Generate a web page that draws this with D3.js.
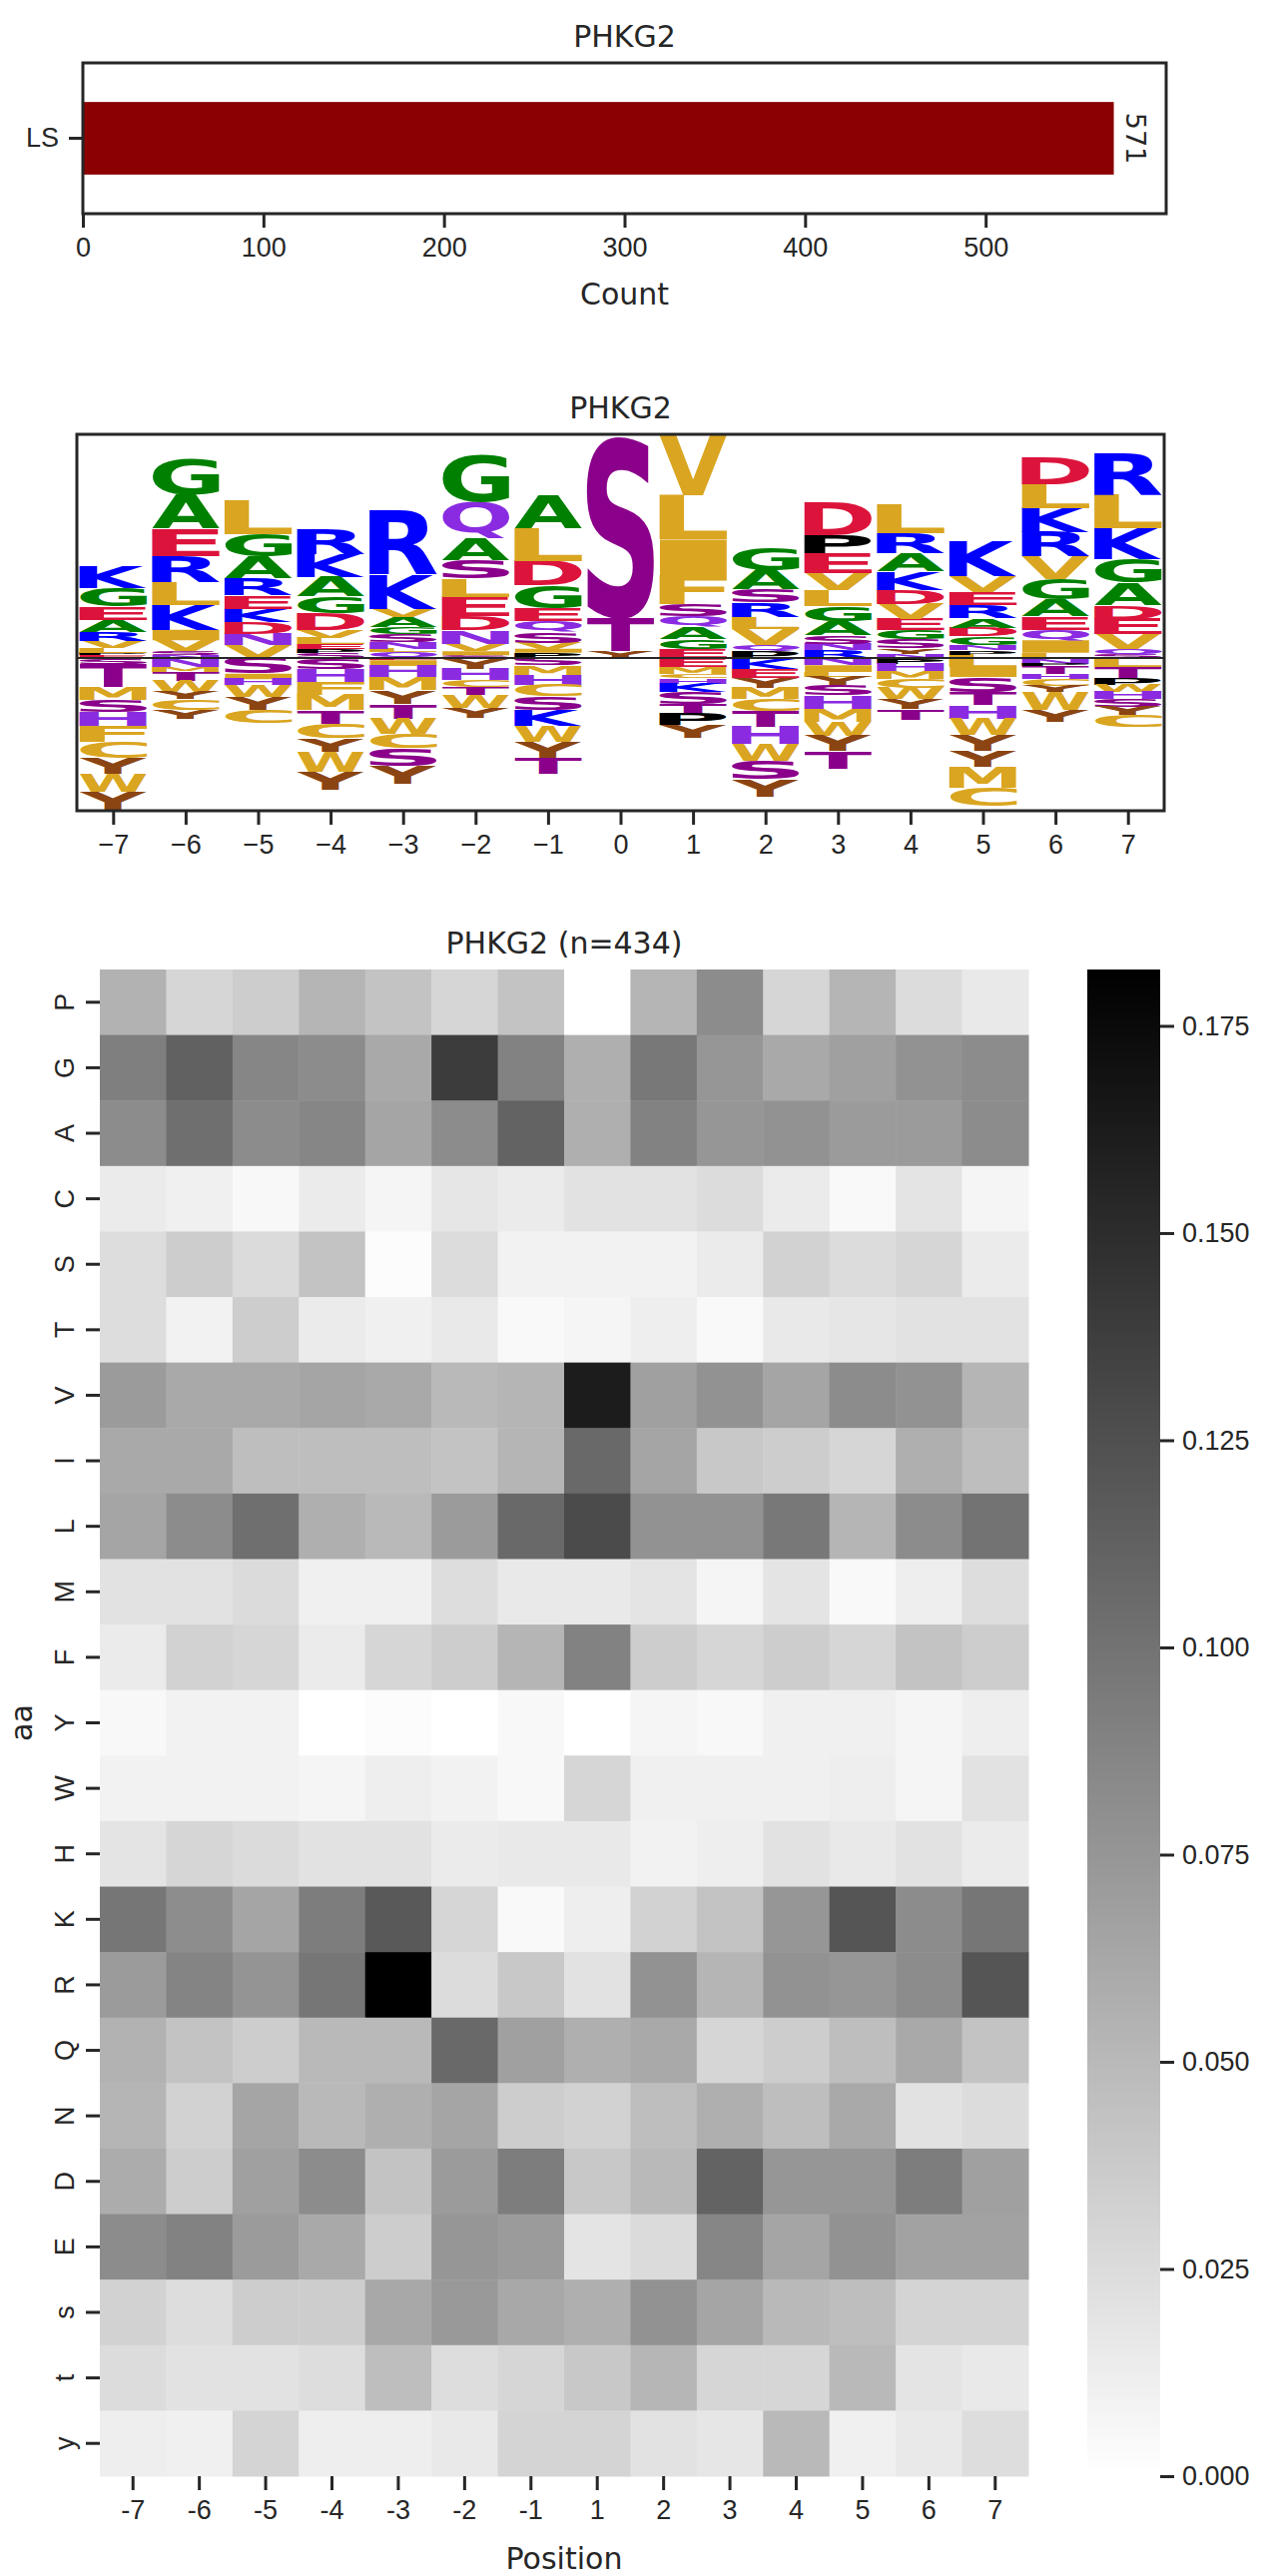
<!DOCTYPE html>
<html>
<head>
<meta charset="utf-8">
<script src="https://cdn.jsdelivr.net/npm/d3@7"></script>
<style>
  body { margin: 0; background: #fff; }
  svg { font-family: "DejaVu Sans", sans-serif; }
</style>
</head>
<body>
<svg id="chart" width="1276" height="2580"></svg>
<script>
// ---- data ----
const kinase = "PHKG2";
const countCats = ["LS"];
const countVals = [571];

const logoPositions = [-7, -6, -5, -4, -3, -2, -1, 0, 1, 2, 3, 4, 5, 6, 7];
// enriched letters, listed from top of stack down to zero line
const logoUp = [
  [["K",.67],["G",.55],["E",.40],["A",.37],["R",.26],["V",.22],["L",.15],["P",.07],["E",.08]],
  [["G",1.08],["A",1.02],["E",.82],["R",.78],["L",.70],["K",.73],["I",.32],["V",.33],["S",.12],["N",.08]],
  [["L",1.00],["G",.67],["A",.68],["R",.50],["E",.40],["K",.40],["D",.35],["N",.35],["V",.38]],
  [["R",.75],["K",.70],["A",.58],["G",.50],["D",.50],["V",.24],["L",.18],["E",.17],["P",.10],["S",.16]],
  [["R",1.92],["K",1.03],["V",.25],["A",.30],["G",.20],["S",.25],["N",.20],["L",.10],["Q",.18]],
  [["G",1.42],["Q",1.08],["A",.67],["S",.55],["L",.55],["E",.57],["D",.43],["N",.40],["V",.23],["I",.12],["S",.08]],
  [["A",1.00],["L",.98],["D",.72],["G",.68],["E",.39],["Q",.31],["S",.34],["V",.18],["I",.12],["P",.16]],
  [["S",5.48],["T",.98],["Y",.20]],
  [["V",1.78],["L",1.34],["I",1.08],["F",.85],["S",.37],["Q",.33],["A",.35],["G",.30],["E",.28]],
  [["G",.67],["A",.58],["S",.39],["R",.43],["L",.35],["V",.48],["Q",.20],["P",.20]],
  [["D",.96],["P",.57],["E",.57],["V",.53],["L",.47],["G",.46],["A",.42],["S",.25],["N",.20],["R",.23]],
  [["L",.87],["R",.60],["A",.56],["K",.55],["D",.42],["V",.45],["E",.35],["G",.27],["S",.26],["Y",.17],["N",.13]],
  [["K",1.05],["V",.47],["E",.40],["R",.38],["A",.29],["D",.25],["G",.26],["N",.17],["P",.13],["L",.10]],
  [["D",.80],["L",.72],["K",.73],["R",.72],["V",.68],["G",.62],["A",.51],["E",.40],["Q",.32],["I",.37],["L",.16]],
  [["R",1.26],["L",1.00],["K",.92],["G",.72],["A",.68],["D",.40],["E",.45],["V",.45],["Q",.18],["S",.10]]
];
// depleted letters, listed from zero line downward
const logoDown = [
  [["S",.17],["T",.70],["M",.40],["S",.35],["H",.43],["F",.47],["C",.48],["Y",.47],["W",.55],["Y",.55]],
  [["N",.27],["M",.15],["T",.27],["W",.33],["Y",.22],["C",.33],["Y",.25]],
  [["S",.47],["I",.17],["H",.18],["W",.35],["Y",.40],["C",.40]],
  [["S",.32],["H",.40],["F",.40],["M",.45],["T",.40],["C",.45],["Y",.40],["W",.60],["Y",.53]],
  [["E",.07],["I",.17],["H",.33],["M",.40],["Y",.40],["T",.45],["W",.45],["C",.45],["S",.52],["Y",.55]],
  [["Y",.32],["H",.35],["C",.20],["T",.25],["W",.38],["Y",.30]],
  [["S",.22],["M",.28],["H",.30],["C",.35],["S",.42],["K",.48],["W",.47],["Y",.50],["T",.47]],
  [],
  [["E",.27],["M",.20],["C",.13],["H",.17],["K",.25],["S",.35],["T",.30],["P",.35],["Y",.38]],
  [["K",.32],["E",.27],["Y",.30],["M",.35],["C",.35],["T",.47],["H",.53],["W",.50],["S",.55],["Y",.52]],
  [["N",.22],["I",.20],["L",.15],["Y",.25],["S",.30],["H",.40],["M",.40],["W",.42],["Y",.46],["T",.52]],
  [["P",.17],["H",.23],["M",.22],["C",.28],["W",.34],["Y",.30],["T",.33]],
  [["L",.27],["I",.30],["S",.45],["T",.40],["H",.40],["W",.50],["Y",.47],["Y",.48],["M",.62],["C",.55]],
  [["N",.17],["P",.07],["T",.23],["H",.17],["C",.20],["Y",.18],["W",.55],["Y",.35]],
  [["L",.27],["T",.35],["P",.18],["W",.22],["H",.22],["S",.23],["Y",.25],["C",.35]]
];

const heatCols = ["-7", "-6", "-5", "-4", "-3", "-2", "-1", "1", "2", "3", "4", "5", "6", "7"];
const heatRows = ["P","G","A","C","S","T","V","I","L","M","F","Y","W","H","K","R","Q","N","D","E","s","t","y"];
const heatVals = [
  [.055,.029,.036,.053,.043,.029,.043,0,.053,.082,.029,.053,.025,.016],
  [.091,.113,.086,.082,.061,.139,.089,.057,.096,.075,.061,.068,.078,.082],
  [.082,.103,.082,.086,.064,.082,.111,.057,.089,.075,.078,.071,.071,.082],
  [.014,.011,.005,.014,.007,.018,.014,.021,.021,.025,.014,.004,.019,.007],
  [.024,.036,.026,.043,.002,.025,.009,.009,.009,.014,.032,.025,.029,.014],
  [.024,.009,.036,.014,.011,.016,.004,.007,.012,.004,.016,.018,.021,.021],
  [.071,.061,.061,.064,.061,.050,.053,.162,.068,.078,.064,.082,.078,.053],
  [.061,.061,.046,.046,.046,.043,.053,.107,.064,.039,.036,.029,.057,.046],
  [.064,.082,.103,.057,.050,.071,.107,.128,.078,.078,.096,.053,.082,.100],
  [.021,.021,.026,.011,.011,.024,.016,.016,.019,.007,.019,.004,.012,.024],
  [.014,.032,.029,.014,.029,.036,.053,.089,.036,.029,.036,.029,.043,.036],
  [.005,.009,.009,0,.002,0,.005,0,.007,.005,.011,.011,.007,.012],
  [.009,.009,.009,.007,.012,.009,.005,.029,.011,.011,.011,.012,.007,.021],
  [.019,.029,.026,.021,.021,.014,.016,.016,.009,.012,.021,.016,.021,.014],
  [.098,.081,.064,.093,.118,.029,.004,.012,.032,.043,.075,.121,.082,.098],
  [.071,.088,.076,.098,.182,.025,.039,.021,.078,.053,.078,.075,.082,.121],
  [.055,.043,.036,.050,.050,.107,.068,.057,.061,.029,.036,.046,.061,.043],
  [.053,.032,.064,.050,.057,.064,.036,.032,.046,.057,.046,.061,.021,.025],
  [.059,.036,.068,.082,.043,.071,.093,.039,.050,.111,.075,.075,.093,.068],
  [.082,.089,.071,.061,.036,.075,.071,.019,.026,.086,.064,.078,.066,.066],
  [.032,.024,.036,.036,.062,.073,.062,.057,.078,.064,.050,.046,.031,.031],
  [.025,.021,.021,.024,.046,.024,.029,.039,.052,.029,.029,.050,.019,.016],
  [.012,.011,.031,.012,.012,.016,.031,.031,.021,.018,.050,.011,.016,.024]
];
const cbTicks = [0, 0.025, 0.05, 0.075, 0.1, 0.125, 0.15, 0.175];

const aaColor = {
  G: "#008000", A: "#008000",
  S: "#8b008b", T: "#8b008b",
  N: "#8a2be2", Q: "#8a2be2", H: "#8a2be2",
  K: "#0000ff", R: "#0000ff",
  D: "#dc143c", E: "#dc143c",
  L: "#daa520", V: "#daa520", I: "#daa520", F: "#daa520", M: "#daa520", W: "#daa520", C: "#daa520",
  P: "#000000", Y: "#8b4513"
};

const svg = d3.select("#chart");
const ink = "#262626";
const tickFont = 27, labelFont = 30;

function frame(g, x0, y0, x1, y1) {
  g.append("rect").attr("x", x0).attr("y", y0).attr("width", x1 - x0).attr("height", y1 - y0)
    .attr("fill", "none").attr("stroke", ink).attr("stroke-width", 3);
}
function styleAxis(a) {
  a.select(".domain").remove();
  a.selectAll(".tick line").attr("stroke", ink).attr("stroke-width", 3);
  a.selectAll(".tick text").attr("fill", ink).style("font-size", tickFont + "px");
}

// ---- panel 1: count bar ----
{
  const L = 83, R = 1168, T = 63, B = 214;
  const x = d3.scaleLinear().domain([0, 600]).range([L, R]);
  const y = d3.scaleBand().domain(countCats).range([T, B]).padding(0.35);
  const g = svg.append("g");
  g.selectAll("rect.bar").data(countVals).join("rect").attr("class", "bar")
    .attr("x", x(0)).attr("y", (d, i) => y(countCats[i]))
    .attr("width", d => x(d) - x(0)).attr("height", y.bandwidth()).attr("fill", "#8b0000");
  g.selectAll("text.val").data(countVals).join("text").attr("class", "val")
    .attr("transform", (d, i) => `translate(${x(d) + 12},${y(countCats[i]) + y.bandwidth() / 2}) rotate(90)`)
    .attr("text-anchor", "middle").attr("fill", ink).style("font-size", tickFont + "px").text(d => d);
  frame(g, L, T, R, B);
  styleAxis(g.append("g").attr("transform", `translate(0,${B})`)
    .call(d3.axisBottom(x).tickValues([0, 100, 200, 300, 400, 500]).tickSize(14).tickPadding(10)));
  styleAxis(g.append("g").attr("transform", `translate(${L},0)`)
    .call(d3.axisLeft(y).tickSize(14).tickPadding(10)));
  g.append("text").attr("x", (L + R) / 2).attr("y", 47).attr("text-anchor", "middle")
    .attr("fill", ink).style("font-size", labelFont + "px").text(kinase);
  g.append("text").attr("x", (L + R) / 2).attr("y", 305).attr("text-anchor", "middle")
    .attr("fill", ink).style("font-size", labelFont + "px").text("Count");
}

// ---- panel 2: sequence logo ----
{
  const L = 77, R = 1166, T = 435, B = 812;
  const x = d3.scaleLinear().domain([-7.5, 7.5]).range([L, R]);
  const y = d3.scaleLinear().domain([-4.59, 6.72]).range([B, T]);
  const g = svg.append("g");
  const ctx = document.createElement("canvas").getContext("2d");
  ctx.font = "bold 100px 'DejaVu Sans'";
  const w = (x(1) - x(0)) * 0.93;

  function glyph(ch, cx, yTop, yBot) {
    const m = ctx.measureText(ch);
    const l = -m.actualBoundingBoxLeft, r = m.actualBoundingBoxRight;
    const t = -m.actualBoundingBoxAscent, b = m.actualBoundingBoxDescent;
    const h = yBot - yTop;
    if (h <= 0) return;
    g.append("text").text(ch)
      .attr("fill", aaColor[ch.toUpperCase()])
      .style("font-family", "'DejaVu Sans'").style("font-weight", "bold").style("font-size", "100px")
      .attr("transform", `translate(${cx - w / 2},${yTop}) scale(${w / (r - l)},${h / (b - t)}) translate(${-l},${-t})`);
  }

  logoPositions.forEach((p, i) => {
    const cx = x(p);
    let acc = 0;
    logoUp[i].slice().reverse().forEach(([ch, v]) => {
      glyph(ch, cx, y(acc + v), y(acc));
      acc += v;
    });
    acc = 0;
    logoDown[i].forEach(([ch, v]) => {
      glyph(ch, cx, y(-acc), y(-acc - v));
      acc += v;
    });
  });
  g.append("line").attr("x1", L).attr("x2", R).attr("y1", y(0)).attr("y2", y(0))
    .attr("stroke", ink).attr("stroke-width", 2);
  frame(g, L, T, R, B);
  styleAxis(g.append("g").attr("transform", `translate(0,${B})`)
    .call(d3.axisBottom(x).tickValues(logoPositions).tickFormat(d3.format("d")).tickSize(14).tickPadding(10)));
  g.append("text").attr("x", (L + R) / 2).attr("y", 419).attr("text-anchor", "middle")
    .attr("fill", ink).style("font-size", labelFont + "px").text(kinase);
}

// ---- panel 3: heatmap ----
{
  const L = 100, R = 1030, T = 971, B = 2480;
  const x = d3.scaleBand().domain(heatCols).range([L, R]);
  const y = d3.scaleBand().domain(heatRows).range([T, B]);
  const vmax = 0.1818;
  const color = d3.scaleLinear().domain([0, vmax]).range(["#ffffff", "#000000"]).clamp(true);
  const g = svg.append("g");
  heatRows.forEach((r, ri) => {
    g.selectAll(null).data(heatVals[ri]).join("rect")
      .attr("x", (d, ci) => x(heatCols[ci])).attr("y", y(r))
      .attr("width", x.bandwidth() + 0.5).attr("height", y.bandwidth() + 0.5)
      .attr("fill", d => color(d));
  });
  const ax = g.append("g").attr("transform", `translate(0,${B})`)
    .call(d3.axisBottom(x).tickSize(14).tickPadding(10));
  styleAxis(ax);
  const ay = g.append("g").attr("transform", `translate(${L},0)`)
    .call(d3.axisLeft(y).tickSize(14).tickPadding(10));
  styleAxis(ay);
  ay.selectAll(".tick text").attr("transform", "rotate(-90)").attr("text-anchor", "middle")
    .attr("x", 0).attr("dy", 0).attr("y", -26);
  g.append("text").attr("x", (L + R) / 2).attr("y", 955).attr("text-anchor", "middle")
    .attr("fill", ink).style("font-size", labelFont + "px").text(`${kinase} (n=434)`);
  g.append("text").attr("x", (L + R) / 2).attr("y", 2573).attr("text-anchor", "middle")
    .attr("fill", ink).style("font-size", labelFont + "px").text("Position");
  g.append("text").attr("transform", `translate(32,${(T + B) / 2}) rotate(-90)`).attr("text-anchor", "middle")
    .attr("fill", ink).style("font-size", labelFont + "px").text("aa");

  // colorbar
  const cx0 = 1089, cx1 = 1162;
  const cy = d3.scaleLinear().domain([0, vmax]).range([B, T]);
  const defs = svg.append("defs");
  const grad = defs.append("linearGradient").attr("id", "cb").attr("x1", 0).attr("x2", 0).attr("y1", 1).attr("y2", 0);
  grad.append("stop").attr("offset", 0).attr("stop-color", color(0));
  grad.append("stop").attr("offset", 1).attr("stop-color", color(vmax));
  g.append("rect").attr("x", cx0).attr("y", T).attr("width", cx1 - cx0).attr("height", B - T).attr("fill", "url(#cb)");
  styleAxis(g.append("g").attr("transform", `translate(${cx1},0)`)
    .call(d3.axisRight(cy).tickValues(cbTicks).tickFormat(d3.format(".3f")).tickSize(14).tickPadding(8)));
}
</script>
</body>
</html>
